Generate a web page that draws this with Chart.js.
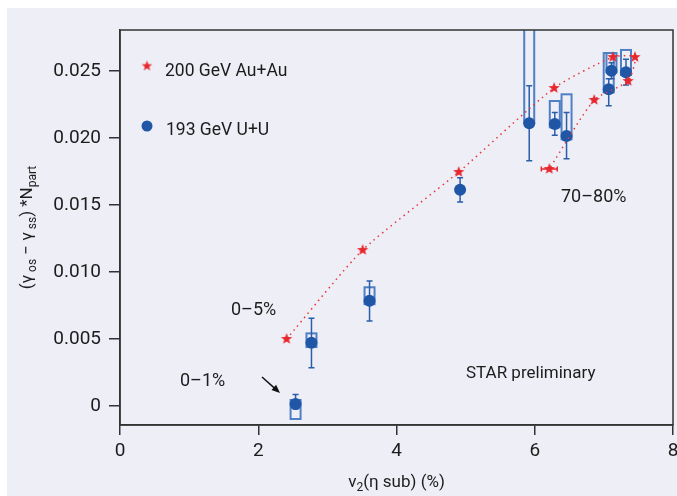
<!DOCTYPE html>
<html>
<head>
<meta charset="utf-8">
<script src="https://cdn.jsdelivr.net/npm/chart.js@4"></script>
<style>
  html, body { margin:0; padding:0; background:#fff; }
  #wrap { position:absolute; left:7px; top:8px; width:670px; height:488px; background:#eeeef7; }
  canvas { display:block; }
</style>
</head>
<body>
<div id="wrap"><canvas id="chart" width="670" height="488"></canvas></div>
<script>
// ── Data ─────────────────────────────────────────────
// 200 GeV Au+Au, ordered by centrality (0-5% ... 70-80%)
const auX    = [2.41, 3.51, 4.90, 6.28, 7.13, 7.45, 7.35, 6.86, 6.21];
const auY    = [0.0050, 0.01164, 0.01746, 0.02373, 0.02604, 0.02604, 0.02425, 0.02284, 0.01769];
const auXErr = [0, 0, 0, 0, 0, 0, 0, 0, 0.115];

// 193 GeV U+U
const uuX      = [2.54, 2.77, 3.61, 4.92, 5.92, 6.29, 6.46, 7.07, 7.11, 7.32];
const uuY      = [0.00015, 0.00472, 0.00786, 0.01614, 0.0211, 0.02104, 0.02015, 0.02363, 0.02502, 0.0249];
const uuStatUp = [0.0007, 0.00182, 0.00147, 0.0009, 0.0028, 0.00086, 0.00175, 0.0008, 0.0006, 0.00097];
const uuStatDn = [0.00037, 0.00187, 0.00152, 0.00092, 0.0028, 0.00084, 0.00169, 0.00123, 0.0006, 0.00094];
const uuSysTop = [0.00045, 0.00542, 0.00886, 0.01614, 0.0285, 0.02276, 0.02326, 0.02634, 0.02634, 0.02657];
const uuSysBot = [-0.00097, 0.0044, 0.0076, 0.01614, 0.0211, 0.0208, 0.0199, 0.0234, 0.0249, 0.0247];

const xTicks = [0, 2, 4, 6, 8];
const yTicks = [0, 0.005, 0.010, 0.015, 0.020, 0.025];

const RED  = '#e8262d';
const BLUE = '#1f56a6';
const FONT = 'Roboto, "Liberation Sans", sans-serif';

// ── Helpers ──────────────────────────────────────────
function makeStar(r, color) {
    const c = document.createElement('canvas');
    const s = Math.ceil(r * 2 + 2);
    c.width = c.height = s;
    const g = c.getContext('2d');
    g.fillStyle = color;
    g.beginPath();
    for (let i = 0; i < 10; i++) {
        const rr = i % 2 ? r * 0.42 : r;
        const a = -Math.PI / 2 + i * Math.PI / 5;
        g.lineTo(s / 2 + rr * Math.cos(a), s / 2 + rr * Math.sin(a));
    }
    g.closePath();
    g.fill();
    return c;
}
const starImg    = makeStar(6, RED);
const starLegend = makeStar(5.5, RED);

function drawParts(ctx, parts, x, y) {
    // parts: [text, size, dy]
    let cx = x;
    parts.forEach(([t, size, dy]) => {
        ctx.font = `${size}px ${FONT}`;
        ctx.fillText(t, cx, y + dy);
        cx += ctx.measureText(t).width;
    });
    return cx - x;
}
function partsWidth(ctx, parts) {
    return parts.reduce((w, [t, size]) => { ctx.font = `${size}px ${FONT}`; return w + ctx.measureText(t).width; }, 0);
}

// ── Error bars and systematic boxes ──────────────────
const errorBars = {
    id: 'errorBars',
    beforeDatasetsDraw(chart) {
        const { ctx, chartArea: a, scales: { x, y } } = chart;
        ctx.save();
        ctx.beginPath(); ctx.rect(a.left, a.top, a.width, a.height); ctx.clip();

        ctx.strokeStyle = '#4f7fc4'; ctx.lineWidth = 2;
        uuX.forEach((v, i) => {
            if (uuSysTop[i] === uuSysBot[i]) return;
            const px = x.getPixelForValue(v);
            const t = y.getPixelForValue(uuSysTop[i]), b = y.getPixelForValue(uuSysBot[i]);
            ctx.strokeRect(px - 5, t, 10, b - t);
        });

        ctx.strokeStyle = '#2b5ea9'; ctx.lineWidth = 1.5;
        uuX.forEach((v, i) => {
            const px = x.getPixelForValue(v);
            const t = y.getPixelForValue(uuY[i] + uuStatUp[i]), b = y.getPixelForValue(uuY[i] - uuStatDn[i]);
            ctx.beginPath();
            ctx.moveTo(px, t); ctx.lineTo(px, b);
            ctx.moveTo(px - 3, t); ctx.lineTo(px + 3, t);
            ctx.moveTo(px - 3, b); ctx.lineTo(px + 3, b);
            ctx.stroke();
        });

        ctx.strokeStyle = RED; ctx.lineWidth = 1.5;
        auX.forEach((v, i) => {
            if (!auXErr[i]) return;
            const l = x.getPixelForValue(v - auXErr[i]), r = x.getPixelForValue(v + auXErr[i]);
            const py = y.getPixelForValue(auY[i]);
            ctx.beginPath();
            ctx.moveTo(l, py); ctx.lineTo(r, py);
            ctx.moveTo(l, py - 2.5); ctx.lineTo(l, py + 2.5);
            ctx.moveTo(r, py - 2.5); ctx.lineTo(r, py + 2.5);
            ctx.stroke();
        });
        ctx.restore();
    }
};

// ── Frame, legend, labels ────────────────────────────
const decorations = {
    id: 'decorations',
    afterDraw(chart) {
        const { ctx, chartArea: a } = chart;
        ctx.save();
        ctx.strokeStyle = '#333'; ctx.lineWidth = 1.5;
        ctx.strokeRect(a.left, a.top, a.width, a.height);

        ctx.fillStyle = '#1c1c1c';
        ctx.textBaseline = 'alphabetic';

        // legend
        ctx.drawImage(starLegend, 140 - starLegend.width / 2, 58 - starLegend.height / 2);
        ctx.font = `17.5px ${FONT}`;
        ctx.fillText('200 GeV Au+Au', 158, 68);
        ctx.fillStyle = BLUE;
        ctx.beginPath(); ctx.arc(140, 118, 5.5, 0, Math.PI * 2); ctx.fill();
        ctx.fillStyle = '#1c1c1c';
        ctx.fillText('193 GeV U+U', 159, 127);

        // annotations
        ctx.font = `18px ${FONT}`;
        ctx.fillText('0\u20135%', 224, 307);
        ctx.fillText('0\u20131%', 173, 378);
        ctx.fillText('70\u201380%', 554, 194);
        ctx.font = `17px ${FONT}`;
        ctx.fillText('STAR preliminary', 459, 370);

        // arrow
        const x0 = 255, y0 = 369, x1 = 273, y1 = 385;
        const ang = Math.atan2(y1 - y0, x1 - x0);
        ctx.strokeStyle = '#111'; ctx.lineWidth = 1.5;
        ctx.beginPath(); ctx.moveTo(x0, y0); ctx.lineTo(x1 - 4 * Math.cos(ang), y1 - 4 * Math.sin(ang)); ctx.stroke();
        ctx.fillStyle = '#111';
        ctx.beginPath();
        ctx.moveTo(x1, y1);
        ctx.lineTo(x1 - 9 * Math.cos(ang - 0.4), y1 - 9 * Math.sin(ang - 0.4));
        ctx.lineTo(x1 - 9 * Math.cos(ang + 0.4), y1 - 9 * Math.sin(ang + 0.4));
        ctx.closePath(); ctx.fill();

        // x title
        ctx.fillStyle = '#1c1c1c';
        const xt = [['v', 17, 0], ['2', 12, 4], ['(\u03b7 sub) (%)', 17, 0]];
        drawParts(ctx, xt, (a.left + a.right) / 2 - partsWidth(ctx, xt) / 2, 479);

        // y title
        const yt = [['(\u03b3', 17, 0], [' os', 12, 4], [' \u2212 \u03b3', 17, 0], [' ss', 12, 4],
                    [') *N', 17, 0], ['part', 12, 4]];
        ctx.translate(25, (a.top + a.bottom) / 2);
        ctx.rotate(-Math.PI / 2);
        drawParts(ctx, yt, -partsWidth(ctx, yt) / 2, 0);
        ctx.restore();
    }
};

// ── Chart ────────────────────────────────────────────
new Chart(document.getElementById('chart'), {
    type: 'scatter',
    data: {
        datasets: [
            {
                label: '200 GeV Au+Au',
                data: auX.map((v, i) => ({ x: v, y: auY[i] })),
                showLine: true,
                borderColor: '#e8343a',
                borderWidth: 1.5,
                borderDash: [1.5, 4],
                tension: 0.2,
                pointStyle: starImg,
                pointRadius: 6
            },
            {
                label: '193 GeV U+U',
                data: uuX.map((v, i) => ({ x: v, y: uuY[i] })),
                showLine: false,
                backgroundColor: BLUE,
                borderWidth: 0,
                pointRadius: 6
            }
        ]
    },
    options: {
        responsive: false,
        animation: false,
        layout: { autoPadding: false, padding: { top: 22, right: 4, left: 0, bottom: 0 } },
        plugins: { legend: { display: false }, tooltip: { enabled: false } },
        scales: {
            x: {
                type: 'linear', min: 0, max: 8,
                afterBuildTicks: s => { s.ticks = xTicks.map(v => ({ value: v })); },
                afterFit: s => { s.height = 71; s.paddingLeft = 0; s.paddingRight = 0; },
                grid: { drawOnChartArea: false, drawTicks: true, tickLength: 10, color: '#333', lineWidth: 1.5 },
                border: { display: true, color: '#333', width: 1.5 },
                ticks: { color: '#1c1c1c', padding: 5, font: { family: FONT, size: 19 }, maxRotation: 0 }
            },
            y: {
                type: 'linear', min: -0.001418, max: 0.02806,
                afterBuildTicks: s => { s.ticks = yTicks.map(v => ({ value: v })); },
                afterFit: s => { s.width = 113; s.paddingTop = 0; s.paddingBottom = 0; },
                grid: { drawOnChartArea: false, drawTicks: true, tickLength: 11, color: '#333', lineWidth: 1.5 },
                border: { display: true, color: '#333', width: 1.5 },
                ticks: {
                    color: '#1c1c1c', padding: 8, font: { family: FONT, size: 19 },
                    callback: v => v === 0 ? '0' : v.toFixed(3)
                }
            }
        }
    },
    plugins: [errorBars, decorations]
});
</script>
</body>
</html>
